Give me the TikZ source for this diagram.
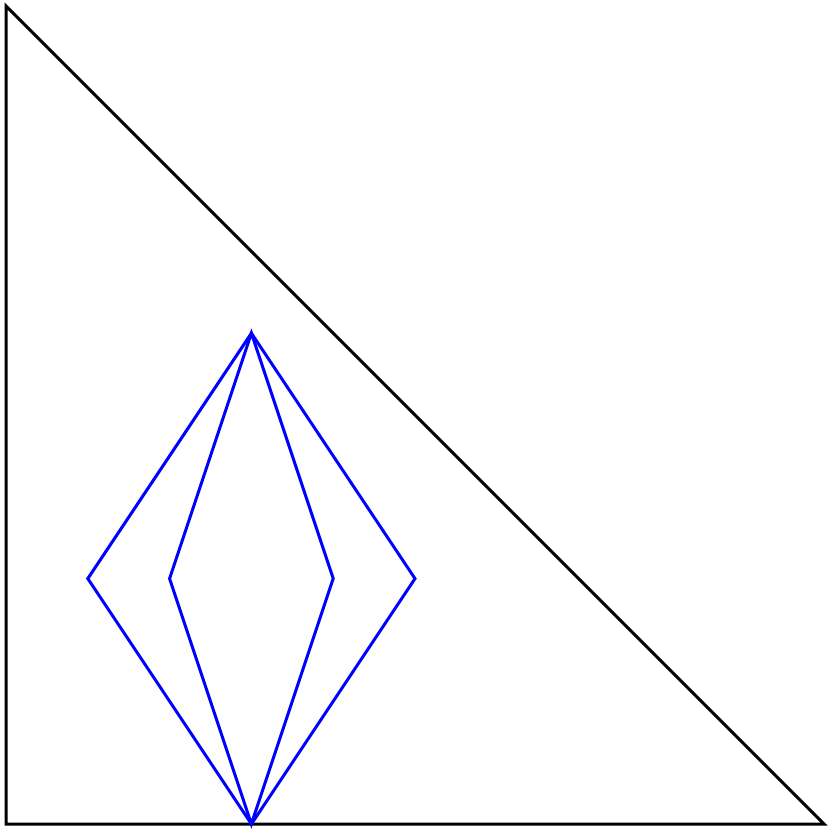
\documentclass[tikz,border=0pt]{standalone}
\begin{document}
\begin{tikzpicture}[x=0.75pt,y=0.75pt,yscale=-1,xscale=1]
\useasboundingbox (0,0) rectangle (830,830);
\tikzset{edge/.style={line width=2.25pt,line join=miter},
  kite/.style={color={rgb, 255:red, 0; green, 0; blue, 255},line width=2.25pt}}

%Triangle corners
\coordinate (tl) at (6,6);
\coordinate (bl) at (6,824);
\coordinate (br) at (824,824);
%Kite tips
\coordinate (top) at (251.4,333.2);
\coordinate (bot) at (251.4,824);
\coordinate (outl) at (87.8,578.6);
\coordinate (outr) at (415,578.6);
\coordinate (inl) at (169.6,578.6);
\coordinate (inr) at (333.2,578.6);

%Shape: Right Triangle
\draw [edge] (tl) -- (bl) -- (br) -- cycle ;
%Outer kite
\draw [kite] (top) -- (outl) -- (bot) -- (outr) -- cycle ;
%Inner kite
\draw [kite] (top) -- (inl) -- (bot) -- (inr) -- cycle ;

\end{tikzpicture}
\end{document}
